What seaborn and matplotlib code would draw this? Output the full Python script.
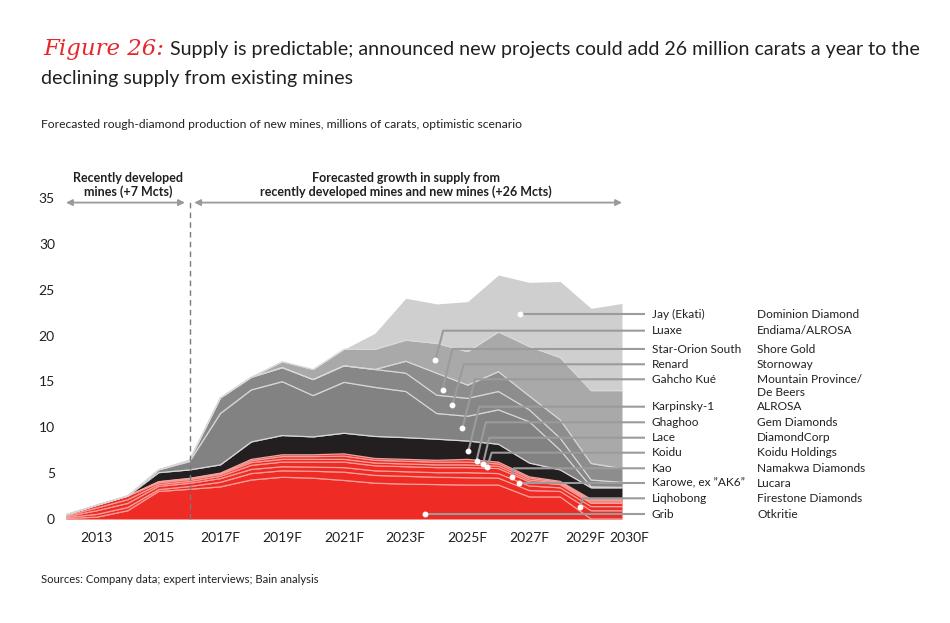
import matplotlib
matplotlib.use("Agg")
import matplotlib.pyplot as plt
import matplotlib.transforms as mtransforms
import pandas as pd
import seaborn as sns

# years on the x axis, forecast years get an "F"
years = list(range(2012, 2031))
tick_years = [2013, 2015, 2017, 2019, 2021, 2023, 2025, 2027, 2029, 2030]
tick_labels = ["2013", "2015", "2017F", "2019F", "2021F", "2023F", "2025F",
               "2027F", "2029F", "2030F"]

# mines, bottom of the stack first
mines = ["Grib", "Liqhobong", "Karowe, ex \u201dAK6\u201d", "Kao", "Koidu", "Lace",
         "Ghaghoo", "Karpinsky-1", "Gahcho Ku\u00e9", "Renard", "Star-Orion South",
         "Luaxe", "Jay (Ekati)"]
owners = ["Otkritie", "Firestone Diamonds", "Lucara", "Namakwa Diamonds",
          "Koidu Holdings", "DiamondCorp", "Gem Diamonds", "ALROSA",
          "Mountain Province/", "Stornoway", "Shore Gold", "Endiama/ALROSA",
          "Dominion Diamond"]

# millions of carats per year
grib      = [0.05, 0.2, 0.9, 3.0, 3.24, 3.5, 4.25, 4.55, 4.45, 4.2, 3.9, 3.8, 3.75, 3.7, 3.7, 2.4, 2.4, 0.0, 0.0]
liqhobong = [0.1, 0.3, 0.35, 0.2, 0.3, 0.5, 0.7, 0.7, 0.75, 0.9, 0.85, 0.85, 0.8, 0.8, 0.75, 0.7, 0.6, 0.9, 0.9]
karowe    = [0.1, 0.4, 0.45, 0.35, 0.35, 0.4, 0.45, 0.45, 0.45, 0.5, 0.5, 0.5, 0.5, 0.55, 0.5, 0.5, 0.4, 0.45, 0.45]
kao       = [0.1, 0.3, 0.4, 0.2, 0.2, 0.25, 0.45, 0.5, 0.55, 0.6, 0.55, 0.55, 0.55, 0.55, 0.55, 0.45, 0.35, 0.35, 0.35]
koidu     = [0.1, 0.3, 0.4, 0.2, 0.2, 0.2, 0.3, 0.3, 0.3, 0.3, 0.3, 0.3, 0.3, 0.3, 0.25, 0.2, 0.15, 0.15, 0.15]
lace      = [0.0, 0.0, 0.0, 0.1, 0.1, 0.1, 0.2, 0.3, 0.3, 0.35, 0.3, 0.3, 0.3, 0.3, 0.25, 0.2, 0.1, 0.15, 0.15]
ghaghoo   = [0.0, 0.0, 0.0, 0.02, 0.04, 0.05, 0.15, 0.2, 0.2, 0.25, 0.2, 0.2, 0.2, 0.3, 0.2, 0.15, 0.1, 0.15, 0.15]
karpinsky = [0.0, 0.0, 0.0, 0.98, 0.92, 0.9, 1.9, 2.1, 1.95, 2.25, 2.4, 2.37, 2.3, 2.0, 1.95, 1.5, 1.25, 1.25, 1.25]
gahcho    = [0.0, 0.0, 0.0, 0.3, 0.9, 5.6, 5.67, 5.87, 4.5, 5.55, 5.35, 5.03, 2.8, 2.7, 3.75, 4.5, 2.15, 0.1, 0.05]
renard    = [0.0, 0.0, 0.0, 0.0, 0.15, 1.7, 1.38, 1.53, 1.75, 1.8, 1.95, 2.0, 2.0, 1.95, 2.0, 1.3, 1.3, 0.75, 0.55]
star_orion = [0.0, 0.0, 0.0, 0.0, 0.0, 0.0, 0.0, 0.0, 0.0, 0.0, 0.0, 1.3, 2.4, 1.45, 2.16, 1.5, 2.0, 1.8, 1.5]
luaxe     = [0.0, 0.0, 0.0, 0.0, 0.0, 0.0, 0.0, 0.65, 1.1, 1.8, 2.2, 2.3, 3.25, 3.65, 4.34, 5.4, 6.8, 7.95, 8.5]
jay       = [0.0, 0.0, 0.0, 0.0, 0.0, 0.0, 0.0, 0.0, 0.0, 0.0, 1.75, 4.57, 4.3, 5.45, 6.2, 7.0, 8.3, 8.97, 9.5]

series = [grib, liqhobong, karowe, kao, koidu, lace, ghaghoo, karpinsky,
          gahcho, renard, star_orion, luaxe, jay]
df = pd.DataFrame(dict(zip(mines, series)), index=years)

RED = "#ee2b24"
colors = [RED] * 7 + ["#231f20", "#828282", "#878787", "#8d8d8d", "#a9a9a9", "#cfcfcf"]
line_colors = ["#f7a19c"] * 7 + ["#d8d8d8"] * 6
TXT = "#231f20"

sns.set_theme(style="white")
plt.rcParams["font.family"] = ["Lato", "DejaVu Sans"]

W, H = 950, 623
fig = plt.figure(figsize=(W / 100, H / 100), dpi=100)
# axes placed so 2012..2030 spans x=66..622 px and 0..35 spans y=519..198 px
ax = fig.add_axes([66 / W, 1 - 519 / H, (622 - 66) / W, (519 - 198) / H])

ax.stackplot(df.index, [df[m] for m in mines], colors=colors, linewidth=0)
cum = df.cumsum(axis=1)
for i, m in enumerate(mines[:-1]):
    ax.plot(df.index, cum[m], color=line_colors[i], lw=0.9, zorder=2)

ax.set_xlim(2012, 2030)
ax.set_ylim(0, 35)
ax.set_yticks(range(0, 36, 5))
ax.set_xticks(tick_years)
ax.set_xticklabels(tick_labels)
ax.tick_params(axis="both", length=0, labelsize=10, colors=TXT)
ax.tick_params(axis="y", pad=8)
ax.tick_params(axis="x", pad=9)
sns.despine(ax=ax, left=True, bottom=True)
ax.grid(False)

# the last two year labels sit close together, nudge them apart
for lbl in ax.get_xticklabels():
    shift = {"2029F": -6, "2030F": 7}.get(lbl.get_text(), 0)
    if shift:
        lbl.set_transform(lbl.get_transform() +
                          mtransforms.ScaledTranslation(shift / 100, 0, fig.dpi_scale_trans))

# divider between history and forecast
ax.plot([2016, 2016], [0, 34.6], color="#7a7a7a", lw=1, ls=(0, (4, 3)), zorder=3,
        clip_on=False)
arrow = dict(arrowstyle="<|-|>", color="#9a9a9a", lw=1.3, mutation_scale=9,
             shrinkA=0, shrinkB=0)
ax.annotate("", xy=(2012, 34.5), xytext=(2015.85, 34.5), arrowprops=arrow,
            annotation_clip=False)
ax.annotate("", xy=(2016.15, 34.5), xytext=(2030, 34.5), arrowprops=arrow,
            annotation_clip=False)
ax.text(2014, 36.4, "Recently developed\nmines (+7 Mcts)", ha="center", va="center",
        fontsize=9, fontweight="bold", color=TXT, linespacing=1.1)
ax.text(2023, 36.4, "Forecasted growth in supply from\nrecently developed mines and new mines (+26 Mcts)",
        ha="center", va="center", fontsize=9, fontweight="bold", color=TXT,
        linespacing=1.1)

# leader lines: label row (px), dot position, bend x (data units)
def py2v(py):
    return (519 - py) / 9.17

rows_px = [514, 498.3, 483.3, 468.3, 452.7, 437.7, 422.3, 406.7, 379.3, 364.3, 349, 330.7, 314.3]
dot_x = [2023.62, 2028.63, 2026.67, 2026.44, 2025.63, 2025.5, 2025.29, 2025.03,
         2024.83, 2024.51, 2024.19, 2023.96, 2026.69]
dot_y = [0.55, 1.28, 3.89, 4.55, 5.64, 6.0, 6.36, 7.45, 9.89, 12.43, 14.07, 17.34, 22.32]
bend_x = [2023.62, 2028.74, 2026.67, 2026.5, 2025.78, 2025.7, 2025.59, 2025.38,
          2025.24, 2024.88, 2024.51, 2024.21, 2026.69]
x_end = 2030 + (645 - 622) / 30.9

for i in range(len(mines)):
    ry = py2v(rows_px[i])
    ax.plot([dot_x[i], bend_x[i], x_end], [dot_y[i], ry, ry], color="#9b9b9b",
            lw=1.5, zorder=4, clip_on=False, solid_capstyle="butt")
    ax.plot(dot_x[i], dot_y[i], "o", ms=3.2, color="white", mec="white", zorder=5)
    fig.text(652 / W, 1 - rows_px[i] / H, mines[i], fontsize=8.6, color=TXT, va="center")
    fig.text(757 / W, 1 - rows_px[i] / H, owners[i], fontsize=8.6, color=TXT, va="center")
fig.text(757 / W, 1 - 393 / H, "De Beers", fontsize=8.6, color=TXT, va="center")

# titles and source
fig.text(43 / W, 1 - 55 / H, "Figure 26:", fontsize=16.5, color="#e8262b",
         family=["DejaVu Serif"], style="italic", va="baseline")
fig.text(170 / W, 1 - 55 / H,
         "Supply is predictable; announced new projects could add 26 million carats a year to the",
         fontsize=14.1, color=TXT, va="baseline")
fig.text(41 / W, 1 - 84 / H, "declining supply from existing mines", fontsize=14.1,
         color=TXT, va="baseline")
fig.text(41 / W, 1 - 128 / H,
         "Forecasted rough-diamond production of new mines, millions of carats, optimistic scenario",
         fontsize=8.75, color=TXT, va="baseline")
fig.text(41 / W, 1 - 583 / H, "Sources: Company data; expert interviews; Bain analysis",
         fontsize=8.1, color=TXT, va="baseline")

fig.savefig("out.png", dpi=100)
